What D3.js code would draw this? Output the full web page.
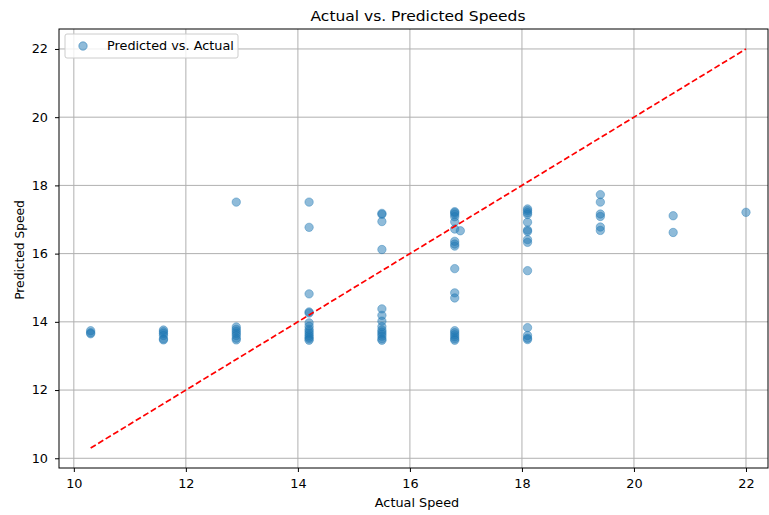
<!DOCTYPE html>
<html>
<head>
<meta charset="utf-8">
<script src="https://cdn.jsdelivr.net/npm/d3@7"></script>
<style>
  body { margin: 0; background: #fff; }
  text { font-family: "DejaVu Sans", sans-serif; fill: #000; }
</style>
</head>
<body>
<div id="chart"></div>
<script>
// Actual speeds (x) and predicted speeds (y), one entry per point
const actual = [
  10.3, 10.3, 10.3,
  11.6, 11.6, 11.6, 11.6, 11.6, 11.6,
  12.9, 12.9, 12.9, 12.9, 12.9, 12.9, 12.9, 12.9,
  14.2, 14.2, 14.2, 14.2, 14.2, 14.2, 14.2, 14.2, 14.2, 14.2, 14.2, 14.2, 14.2, 14.2,
  15.5, 15.5, 15.5, 15.5, 15.5, 15.5, 15.5, 15.5, 15.5, 15.5, 15.5, 15.5, 15.5, 15.5,
  16.8, 16.8, 16.8, 16.8, 16.8, 16.8, 16.8, 16.8, 16.8, 16.8, 16.8, 16.8, 16.8, 16.8, 16.8, 16.8, 16.8, 16.8,
  16.9,
  18.1, 18.1, 18.1, 18.1, 18.1, 18.1, 18.1, 18.1, 18.1, 18.1, 18.1, 18.1, 18.1, 18.1,
  19.4, 19.4, 19.4, 19.4, 19.4, 19.4,
  20.7, 20.7,
  22.0
];
const predicted = [
  13.74, 13.68, 13.65,
  13.76, 13.71, 13.66, 13.6, 13.5, 13.47,
  17.51, 13.85, 13.78, 13.72, 13.66, 13.6, 13.52, 13.47,
  17.51, 16.77, 14.82, 14.29, 14.26, 13.97, 13.87, 13.78, 13.72, 13.66, 13.6, 13.55, 13.5, 13.46,
  17.18, 17.15, 16.94, 16.12, 14.38, 14.19, 14.02, 13.86, 13.76, 13.7, 13.64, 13.58, 13.5, 13.46,
  17.23, 17.2, 17.15, 17.08, 16.93, 16.72, 16.36, 16.28, 16.22, 15.56, 14.85, 14.7, 13.74, 13.68, 13.62, 13.56, 13.5, 13.46,
  16.67,
  17.31, 17.26, 17.2, 17.15, 16.92, 16.69, 16.65, 16.41, 16.33, 15.5, 13.83, 13.6, 13.52, 13.48,
  17.73, 17.51, 17.16, 17.09, 16.78, 16.68,
  17.11, 16.62,
  17.21
];
const xTicks = [10, 12, 14, 16, 18, 20, 22];
const yTicks = [10, 12, 14, 16, 18, 20, 22];
const lineEnds = [10.3, 22];

const width = 769, height = 515;
const mLeft = 59, mRight = 768, mTop = 29, mBottom = 468;
const sx = 1.07; // horizontal stretch of text in the reference

const svg = d3.select("#chart").append("svg")
  .attr("width", width)
  .attr("height", height);

const x = d3.scaleLinear().domain([9.735, 22.393]).range([mLeft, mRight]);
const y = d3.scaleLinear().domain([9.715, 22.585]).range([mBottom, mTop]);

// grid
svg.append("g").selectAll("line").data(xTicks).enter().append("line")
  .attr("x1", d => x(d)).attr("x2", d => x(d))
  .attr("y1", mTop).attr("y2", mBottom)
  .attr("stroke", "#b0b0b0").attr("stroke-width", 1);
svg.append("g").selectAll("line").data(yTicks).enter().append("line")
  .attr("x1", mLeft).attr("x2", mRight)
  .attr("y1", d => y(d)).attr("y2", d => y(d))
  .attr("stroke", "#b0b0b0").attr("stroke-width", 1);

// points
svg.append("g").selectAll("circle")
  .data(actual.map((a, i) => [a, predicted[i]]))
  .enter().append("circle")
  .attr("cx", d => x(d[0]))
  .attr("cy", d => y(d[1]))
  .attr("r", 4.2)
  .attr("fill", "#1f77b4")
  .attr("fill-opacity", 0.5)
  .attr("stroke", "#1f77b4")
  .attr("stroke-opacity", 0.5)
  .attr("stroke-width", 0.8);

// ideal line
svg.append("line")
  .attr("x1", x(lineEnds[0])).attr("y1", y(lineEnds[0]))
  .attr("x2", x(lineEnds[1])).attr("y2", y(lineEnds[1]))
  .attr("stroke", "red")
  .attr("stroke-width", 1.7)
  .attr("stroke-dasharray", "6,2.8");

// frame
svg.append("rect")
  .attr("x", mLeft).attr("y", mTop)
  .attr("width", mRight - mLeft).attr("height", mBottom - mTop)
  .attr("fill", "none").attr("stroke", "#000").attr("stroke-width", 1);

// axes
const xAxis = svg.append("g")
  .attr("transform", `translate(0,${mBottom})`)
  .call(d3.axisBottom(x).tickValues(xTicks).tickSize(4).tickPadding(7).tickFormat(d3.format("d")));
const yAxis = svg.append("g")
  .attr("transform", `translate(${mLeft},0)`)
  .call(d3.axisLeft(y).tickValues(yTicks).tickSize(4).tickPadding(7).tickFormat(d3.format("d")));
[xAxis, yAxis].forEach(g => {
  g.select(".domain").remove();
  g.selectAll("text").attr("font-size", 12).attr("font-family", "DejaVu Sans");
});
xAxis.selectAll(".tick text").attr("transform", `scale(${sx},1)`);
yAxis.selectAll(".tick text").each(function () {
  const t = d3.select(this);
  const tx = +t.attr("x");
  t.attr("transform", `translate(${tx},0) scale(${sx},1)`).attr("x", 0);
});

// labels
function label(txt, px, py, size) {
  svg.append("text")
    .attr("transform", `translate(${px},${py}) scale(${sx},1)`)
    .attr("text-anchor", "middle")
    .attr("font-size", size)
    .text(txt);
}
label("Actual vs. Predicted Speeds", 418, 20.5, 14.5);
label("Actual Speed", 417, 507, 12);
svg.append("text")
  .attr("transform", "translate(24,250) rotate(-90) scale(1.02,1)")
  .attr("text-anchor", "middle")
  .attr("font-size", 12)
  .text("Predicted Speed");

// legend
const lg = svg.append("g").attr("transform", "translate(65,34)");
lg.append("rect")
  .attr("width", 173).attr("height", 24).attr("rx", 2)
  .attr("fill", "#fff").attr("fill-opacity", 0.8)
  .attr("stroke", "#cccccc");
lg.append("circle")
  .attr("cx", 18).attr("cy", 12).attr("r", 4.2)
  .attr("fill", "#1f77b4").attr("fill-opacity", 0.5)
  .attr("stroke", "#1f77b4").attr("stroke-opacity", 0.5);
lg.append("text")
  .attr("transform", `translate(42,16) scale(${sx},1)`)
  .attr("font-size", 12)
  .text("Predicted vs. Actual");
</script>
</body>
</html>
